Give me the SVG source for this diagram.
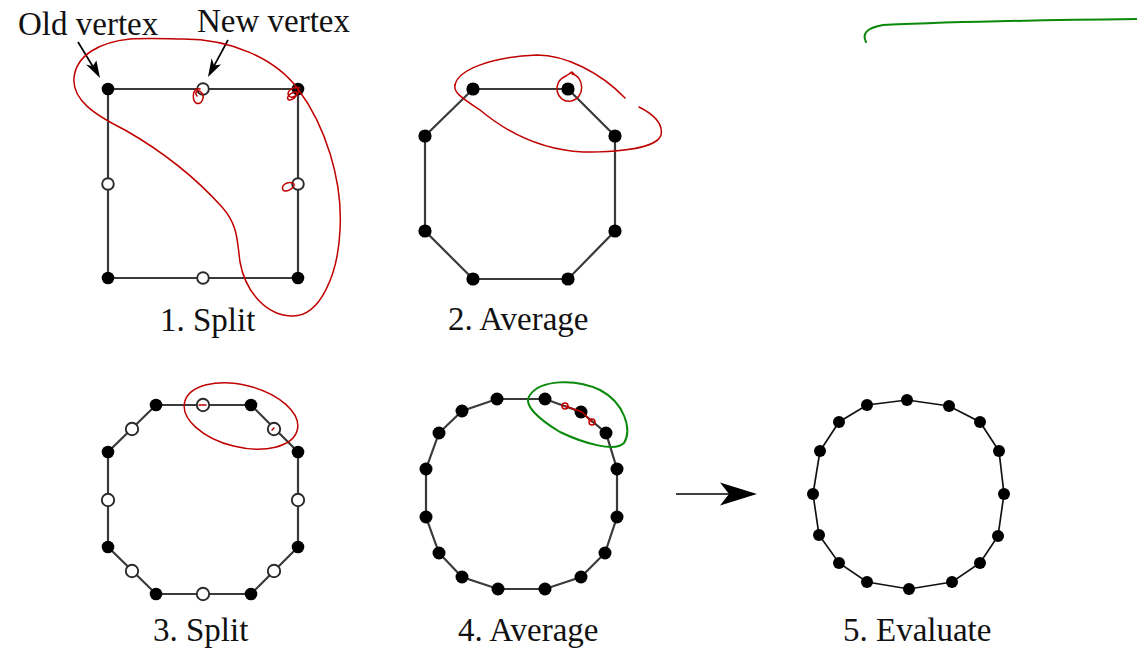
<svg xmlns="http://www.w3.org/2000/svg" width="1137" height="649" viewBox="0 0 1137 649">
<style>
.lbl{font-family:"Liberation Serif","Times New Roman",serif;font-size:33px;fill:#111}
.edge{fill:none;stroke:#3a3a3a;stroke-width:2.2}
.edge5{fill:none;stroke:#111;stroke-width:1.7}
.dot{fill:#000}
.hol{fill:#fff;stroke:#2a2a2a;stroke-width:1.9}
.red{fill:none;stroke:#c00000;stroke-width:1.5;stroke-linecap:round;stroke-linejoin:round}
.grn{fill:none;stroke:#0a8a0a;stroke-width:2;stroke-linecap:round}
.arr{stroke:#000;stroke-width:1.7;fill:none}
.head{fill:#000}
</style>
<rect width="1137" height="649" fill="#fff"/>

<g id="panel1">
<polygon class="edge" points="108,89 298,89 298,278 108,278"/>
<circle class="dot" cx="108" cy="89" r="6.3"/>
<circle class="dot" cx="298" cy="89" r="6.3"/>
<circle class="dot" cx="108" cy="278" r="6.3"/>
<circle class="dot" cx="298" cy="278" r="6.3"/>
<circle class="hol" cx="203" cy="89" r="5.8"/>
<circle class="hol" cx="108" cy="184" r="5.8"/>
<circle class="hol" cx="298" cy="184" r="5.8"/>
<circle class="hol" cx="203" cy="278" r="5.8"/>
<text class="lbl" x="160" y="331">1. Split</text>
</g>

<g id="label-old"><text class="lbl" x="18" y="35">Old vertex</text></g>
<g id="label-new"><text class="lbl" x="197" y="32">New vertex</text></g>

<g id="panel2">
<polygon class="edge" points="473,89 568,89 615,136 615,231 568,279 473,279 425,231 425,136"/>
<circle class="dot" cx="473" cy="89" r="6.6"/>
<circle class="dot" cx="568" cy="89" r="6.6"/>
<circle class="dot" cx="615" cy="136" r="6.6"/>
<circle class="dot" cx="615" cy="231" r="6.6"/>
<circle class="dot" cx="568" cy="279" r="6.6"/>
<circle class="dot" cx="473" cy="279" r="6.6"/>
<circle class="dot" cx="425" cy="231" r="6.6"/>
<circle class="dot" cx="425" cy="136" r="6.6"/>
<text class="lbl" x="448" y="330">2. Average</text>
</g>

<g id="panel3">
<polygon class="edge" points="156,405 251,405 298,452 298,547 251,594 156,594 108,547 108,452"/>
<circle class="dot" cx="156" cy="405" r="6.3"/>
<circle class="dot" cx="251" cy="405" r="6.3"/>
<circle class="dot" cx="298" cy="452" r="6.3"/>
<circle class="dot" cx="298" cy="547" r="6.3"/>
<circle class="dot" cx="251" cy="594" r="6.3"/>
<circle class="dot" cx="156" cy="594" r="6.3"/>
<circle class="dot" cx="108" cy="547" r="6.3"/>
<circle class="dot" cx="108" cy="452" r="6.3"/>
<circle class="hol" cx="203" cy="405" r="6.2"/>
<circle class="hol" cx="274" cy="429" r="6.2"/>
<circle class="hol" cx="298" cy="500" r="6.2"/>
<circle class="hol" cx="274" cy="571" r="6.2"/>
<circle class="hol" cx="203" cy="594" r="6.2"/>
<circle class="hol" cx="132" cy="571" r="6.2"/>
<circle class="hol" cx="108" cy="500" r="6.2"/>
<circle class="hol" cx="132" cy="429" r="6.2"/>
<text class="lbl" x="153" y="641">3. Split</text>
</g>

<g id="panel4">
<polygon class="edge" points="497,399 545,399 581,412 606,433 617,469 617,517 605,553 581,577 545,589 498,589 462,577 439,553 426,517 426,469 439,433 462,411"/>
<circle class="dot" cx="497" cy="399" r="6.5"/>
<circle class="dot" cx="545" cy="399" r="6.5"/>
<circle class="dot" cx="581" cy="412" r="6.5"/>
<circle class="dot" cx="606" cy="433" r="6.5"/>
<circle class="dot" cx="617" cy="469" r="6.5"/>
<circle class="dot" cx="617" cy="517" r="6.5"/>
<circle class="dot" cx="605" cy="553" r="6.5"/>
<circle class="dot" cx="581" cy="577" r="6.5"/>
<circle class="dot" cx="545" cy="589" r="6.5"/>
<circle class="dot" cx="498" cy="589" r="6.5"/>
<circle class="dot" cx="462" cy="577" r="6.5"/>
<circle class="dot" cx="439" cy="553" r="6.5"/>
<circle class="dot" cx="426" cy="517" r="6.5"/>
<circle class="dot" cx="426" cy="469" r="6.5"/>
<circle class="dot" cx="439" cy="433" r="6.5"/>
<circle class="dot" cx="462" cy="411" r="6.5"/>
<text class="lbl" x="458" y="641">4. Average</text>
</g>

<g id="panel5">
<polygon class="edge5" points="907,400 949,406 980,422 999,451 1004,494 998,536 980,563 952,582 909,589 867,582 839,563 819,535 813,494 820,451 839,422 867,405"/>
<circle class="dot" cx="907" cy="400" r="6"/>
<circle class="dot" cx="949" cy="406" r="6"/>
<circle class="dot" cx="980" cy="422" r="6"/>
<circle class="dot" cx="999" cy="451" r="6"/>
<circle class="dot" cx="1004" cy="494" r="6"/>
<circle class="dot" cx="998" cy="536" r="6"/>
<circle class="dot" cx="980" cy="563" r="6"/>
<circle class="dot" cx="952" cy="582" r="6"/>
<circle class="dot" cx="909" cy="589" r="6"/>
<circle class="dot" cx="867" cy="582" r="6"/>
<circle class="dot" cx="839" cy="563" r="6"/>
<circle class="dot" cx="819" cy="535" r="6"/>
<circle class="dot" cx="813" cy="494" r="6"/>
<circle class="dot" cx="820" cy="451" r="6"/>
<circle class="dot" cx="839" cy="422" r="6"/>
<circle class="dot" cx="867" cy="405" r="6"/>
<text class="lbl" x="843" y="641">5. Evaluate</text>
</g>

<g id="connectors">
<line class="arr" x1="78" y1="42" x2="92.7" y2="66.2"/>
<polygon class="head" points="100,78 96.4,60.5 92.7,66.2 86,64.4"/>
<line class="arr" x1="228" y1="40" x2="214.2" y2="65.6"/>
<polygon class="head" points="208,77 221,64.5 214.2,65.6 211.6,58.2"/>
<line class="arr" x1="676" y1="494" x2="730" y2="494"/>
<polygon class="head" points="757,494 720,482.5 729,494 720,505.5"/>
</g>

<g id="annotations">
<path class="red" d="M183,39 C230,39 275,58 298,89 C325,125 343,180 340,230 C338,275 320,316 293,316 C265,316 245,290 240,262 C237,240 238,225 222,207 C195,177 160,150 125,130 C95,115 72,100 74,78 C76,55 100,42 130,39 C150,38 170,39 183,39"/>
<path class="red" d="M200,89 C192,87 192,100 196,103 C201,106 206,97 201,92 C198,89 194,92 197,96"/>
<path class="red" d="M300,88 C292,86 286,92 289,96 C292,99 300,95 298,90 M296,92 C288,93 285,100 290,100 C296,99 298,93 296,92"/>
<path class="red" d="M293,183 C286,181 281,186 283,190 C286,193 295,188 294,184"/>
<path class="red" d="M455,85 C458,70 490,57 537,55 C565,55 600,72 625,98"/>
<path class="red" d="M639,107 C655,115 663,125 661,135 C657,148 620,152 583,152 C545,150 510,135 480,110 C465,100 453,93 455,85"/>
<path class="red" d="M572,74 C584,76 586,98 571,101 C556,103 551,82 566,76 C568,75 570,73 572,72 L575,75"/>
<ellipse class="red" cx="241" cy="416" rx="58" ry="31" transform="rotate(14 241 416)"/>
<path class="red" d="M199,405 L206,405 M272,430 L274,428"/>
<path class="grn" d="M530,395 C540,380 575,378 600,390 C625,403 632,430 624,443 C615,452 585,444 560,432 C540,420 522,405 530,395"/>
<path class="red" d="M565,406 L582,412 L592,422"/>
<circle class="red" cx="565" cy="406" r="3"/>
<circle class="red" cx="592" cy="422" r="3"/>
<path class="grn" d="M866,42 C862,34 866,28 883,25 C950,22 1050,20 1137,19"/>
</g>
</svg>
